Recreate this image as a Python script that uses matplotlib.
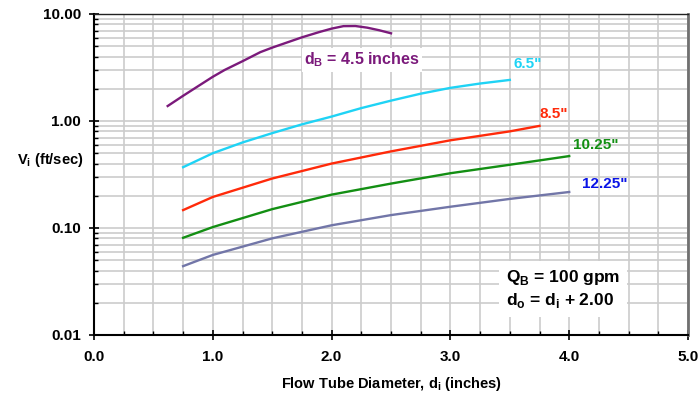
import matplotlib
matplotlib.use("Agg")
import matplotlib.pyplot as plt
import numpy as np
from matplotlib.ticker import FixedLocator, LogLocator, NullFormatter

plt.rcParams["font.family"] = ["Liberation Sans", "DejaVu Sans"]
plt.rcParams["font.weight"] = "bold"

# Flow tube diameter (in) vs velocity (ft/sec)
x_45 = [0.62, 0.75, 0.90, 1.00, 1.10, 1.25, 1.40, 1.50, 1.60, 1.75,
        1.90, 2.00, 2.10, 2.20, 2.30, 2.40, 2.50]
v_45 = [1.38, 1.72, 2.20, 2.59, 3.00, 3.62, 4.40, 4.85, 5.30, 6.05,
        6.80, 7.30, 7.70, 7.72, 7.45, 7.05, 6.60]

x_65 = [0.75, 1.00, 1.25, 1.50, 1.75, 2.00, 2.25, 2.50, 2.75, 3.00, 3.25, 3.50]
v_65 = [0.37, 0.50, 0.63, 0.77, 0.93, 1.10, 1.32, 1.55, 1.80, 2.04, 2.24, 2.42]

x_85 = [0.75, 1.00, 1.50, 2.00, 2.50, 3.00, 3.50, 3.75]
v_85 = [0.147, 0.195, 0.29, 0.40, 0.52, 0.66, 0.80, 0.90]

x_1025 = [0.75, 1.00, 1.50, 2.00, 2.50, 3.00, 3.50, 4.00]
v_1025 = [0.081, 0.102, 0.150, 0.205, 0.26, 0.325, 0.39, 0.47]

x_1225 = [0.75, 1.00, 1.50, 2.00, 2.50, 3.00, 3.50, 4.00]
v_1225 = [0.044, 0.056, 0.080, 0.106, 0.132, 0.158, 0.187, 0.217]

series = [
    (x_45, v_45, "#7b1a7b"),
    (x_65, v_65, "#1fd3f5"),
    (x_85, v_85, "#ff2a0a"),
    (x_1025, v_1025, "#138f13"),
    (x_1225, v_1225, "#7276a8"),
]

fig = plt.figure(figsize=(6.98, 3.93), dpi=100)
ax = fig.add_axes([0.1347, 0.1476, 0.851, 0.8168])

for xs, vs, c in series:
    ax.plot(xs, vs, color=c, linewidth=1.7, zorder=3,
            solid_joinstyle="round")

ax.set_yscale("log")
ax.set_xlim(0, 5)
ax.set_ylim(0.01, 10)

ax.xaxis.set_major_locator(FixedLocator([0, 1, 2, 3, 4, 5]))
ax.xaxis.set_minor_locator(FixedLocator(np.arange(0, 5.01, 0.25)))
ax.yaxis.set_major_locator(FixedLocator([0.01, 0.1, 1, 10]))
ax.yaxis.set_minor_locator(LogLocator(base=10, subs=np.arange(2, 10)))
ax.yaxis.set_minor_formatter(NullFormatter())
ax.set_xticklabels(["0.0", "1.0", "2.0", "3.0", "4.0", "5.0"])
ax.set_yticklabels(["0.01", "0.10", "1.00", "10.00"])

ax.grid(True, which="both", color="#cccccc", linewidth=1.2, zorder=0)
ax.set_axisbelow(True)

ax.tick_params(which="major", direction="inout", length=7, width=1.2,
               labelsize=11)
ax.tick_params(which="minor", direction="in", length=3, width=1.0)
ax.tick_params(axis="y", which="major", pad=6)
ax.tick_params(axis="x", which="major", pad=7)

for s in ["left", "bottom"]:
    ax.spines[s].set_color("black")
    ax.spines[s].set_linewidth(1.5)
ax.spines["top"].set_color("#222222")
ax.spines["top"].set_linewidth(1.0)
ax.spines["right"].set_color("#707070")
ax.spines["right"].set_linewidth(2.0)

ax.set_xlabel("Flow Tube Diameter, d$_\\mathregular{i}$ (inches)",
              fontsize=10.5, fontweight="bold", va="top")
ax.xaxis.set_label_coords(0.5, -0.125)
ax.set_ylabel("V$_\\mathregular{i}$ (ft/sec)", fontsize=10.5,
              fontweight="bold", rotation=0, ha="left", va="center")
ax.yaxis.set_label_coords(-0.13, 0.545)

bg = dict(facecolor="white", edgecolor="none", pad=2)
ax.text(1.77, 3.75, "d$_\\mathregular{B}$ = 4.5 inches", color="#7b1a7b",
        fontsize=11.5, fontweight="bold", va="center", bbox=bg, zorder=4)
ax.text(3.53, 3.4, "6.5\"", color="#1fd3f5", fontsize=11,
        fontweight="bold", va="center", zorder=4)
ax.text(3.75, 1.15, "8.5\"", color="#ff2a0a", fontsize=11,
        fontweight="bold", va="center", zorder=4)
ax.text(4.03, 0.60, "10.25\"", color="#138f13", fontsize=11,
        fontweight="bold", va="center", zorder=4)
ax.text(4.11, 0.26, "12.25\"", color="#0a14e6", fontsize=11,
        fontweight="bold", va="center", zorder=4)

ax.text(3.47, 0.027,
        "Q$_\\mathregular{B}$ = 100 gpm\nd$_\\mathregular{o}$ = d$_\\mathregular{i}$ + 2.00",
        color="black", fontsize=12.5, fontweight="bold", va="center",
        linespacing=1.25, bbox=dict(facecolor="white", edgecolor="none", pad=5),
        zorder=4)

fig.savefig("out.png", dpi=100)
